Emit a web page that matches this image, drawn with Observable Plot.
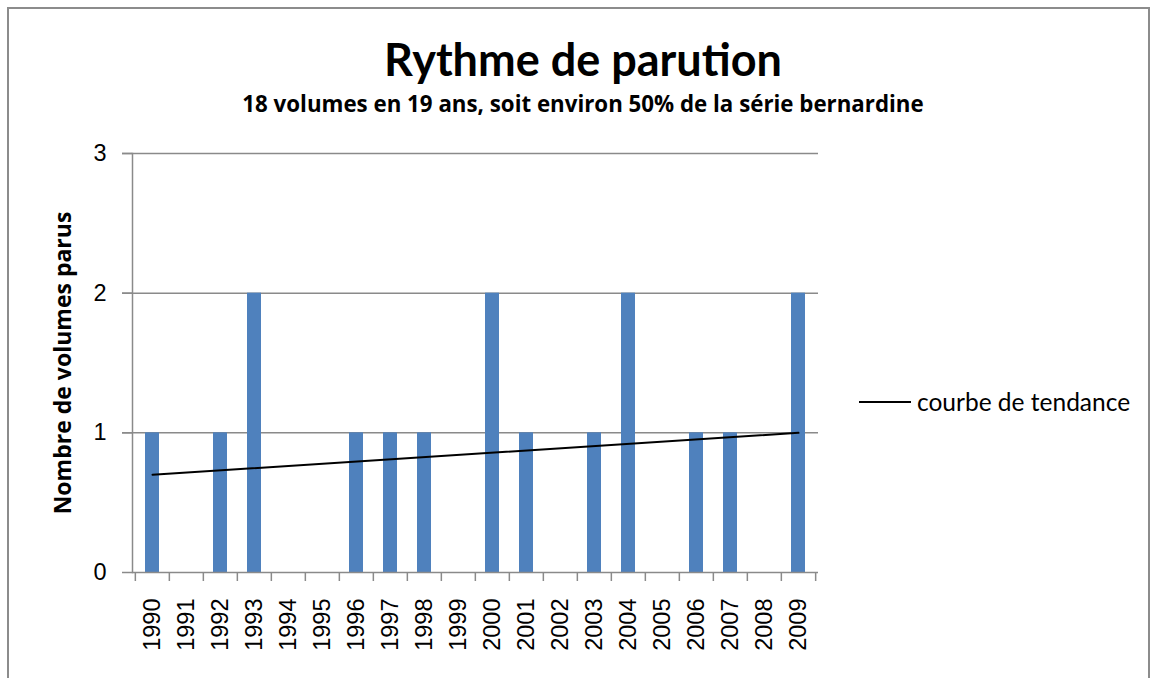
<!DOCTYPE html>
<html>
<head>
<meta charset="utf-8">
<script src="https://cdn.jsdelivr.net/npm/d3@7"></script>
<script src="https://cdn.jsdelivr.net/npm/@observablehq/plot@0.6"></script>
<style>
  html, body { margin: 0; padding: 0; background: #fff; }
  #wrap { position: relative; width: 1160px; height: 678px; overflow: hidden; font-family: Lato, "Open Sans", sans-serif; }
  #frame { position: absolute; left: 7px; top: 7px; width: 1143px; height: 700px; border: 2px solid #8c8c8c; box-sizing: border-box; }
  #title { position: absolute; left: 0; width: 1166px; top: 32px; text-align: center; font-weight: bold; font-size: 45px; line-height: 54px; color: #000; }
  #subtitle { position: absolute; left: 0; width: 1166px; top: 90px; text-align: center; font-family: "Open Sans", sans-serif; font-weight: bold; font-size: 22.3px; line-height: 28px; color: #000; }
  #ylabel { position: absolute; left: 62px; top: 363px; transform: translate(-50%, -50%) rotate(-90deg); white-space: nowrap; font-family: "Open Sans", sans-serif; font-weight: bold; font-size: 23px; color: #000; }
  #legend { position: absolute; left: 859px; top: 387px; display: flex; align-items: center; font-size: 24.5px; color: #000; }
  #legend .sw { width: 52px; height: 0; border-top: 2px solid #000; margin-right: 6px; }
  #chart { position: absolute; left: 0; top: 0; }
  #chart svg text { font-size: 23.5px !important; font-family: "Liberation Sans", Arial, sans-serif !important; }
</style>
</head>
<body>
<div id="wrap">
  <div id="frame"></div>
  <div id="chart"></div>
  <div id="title">Rythme de parution</div>
  <div id="subtitle">18 volumes en 19 ans, soit environ 50% de la série bernardine</div>
  <div id="ylabel">Nombre de volumes parus</div>
  <div id="legend"><div class="sw"></div><span>courbe de tendance</span></div>
</div>
<script>
const years = ["1990","1991","1992","1993","1994","1995","1996","1997","1998","1999",
               "2000","2001","2002","2003","2004","2005","2006","2007","2008","2009"];
const volumes = [1,0,1,2,0,0,1,1,1,0,2,1,0,1,2,0,1,1,0,2];
const trendYears = ["1990","2009"];
const trendValues = [0.7, 1.0];
const yTicks = [0,1,2,3];

const data = years.map((y, i) => ({year: y, count: volumes[i]}));
const trend = trendYears.map((y, i) => ({year: y, value: trendValues[i]}));

const W = 1160, H = 678, ML = 132, MR = 342, MT = 153, MB = 106;
const step = (W - ML - MR) / years.length;
const grey = "#8a8a8a";

const chart = Plot.plot({
  width: W, height: H,
  marginLeft: ML, marginRight: MR, marginTop: MT, marginBottom: MB,
  style: {fontFamily: "'Liberation Sans', Arial, sans-serif", fontSize: "23.5px", color: "#000", background: "transparent"},
  x: {type: "band", domain: years, paddingInner: 0.6, paddingOuter: 0.3},
  y: {domain: [0, 3]},
  marks: [
    Plot.ruleY(yTicks.slice(1), {stroke: grey, strokeWidth: 1.5, insetLeft: -10}),
    Plot.barY(data, {x: "year", y: "count", fill: "#4F81BD"}),
    Plot.ruleY([0], {stroke: grey, strokeWidth: 1.5}),
    Plot.frame({anchor: "left", stroke: grey, strokeWidth: 1.5}),
    Plot.ruleX(years, {x: d => d, dx: -step / 2, y1: 0, y2: 0, insetBottom: -9, stroke: grey, strokeWidth: 1.5}),
    Plot.ruleX(years.slice(-1), {x: d => d, dx: step / 2, y1: 0, y2: 0, insetBottom: -9, stroke: grey, strokeWidth: 1.5}),
    Plot.line(trend, {x: "year", y: "value", stroke: "#000", strokeWidth: 2}),
    Plot.axisY({ticks: yTicks, tickSize: 10, tickPadding: 16, fontSize: 23.5, stroke: grey, strokeWidth: 1.5, label: null, tickFormat: d3.format("d")}),
    Plot.axisX({tickSize: 0, tickPadding: 26, tickRotate: -90, fontSize: 23.5, label: null})
  ]
});
document.getElementById("chart").appendChild(chart);
</script>
</body>
</html>
